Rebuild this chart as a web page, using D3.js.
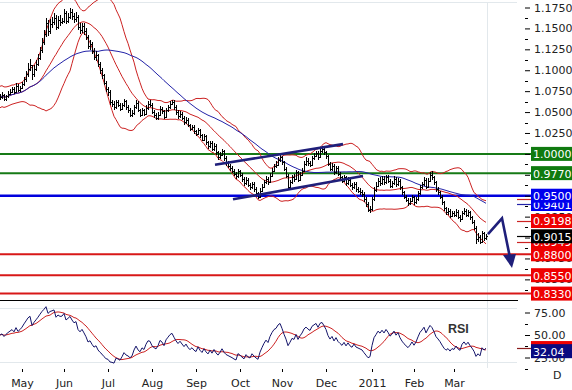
<!DOCTYPE html>
<html>
<head>
<meta charset="utf-8">
<script src="https://cdn.jsdelivr.net/npm/d3@7"></script>
<style>
  body { margin: 0; background: #fff; }
  svg { display: block; font-family: "DejaVu Sans", Verdana, sans-serif; }
</style>
</head>
<body>
<svg id="chart" width="572" height="390"></svg>
<script>
// daily bars, USD/CHF style, from 16 Apr 2010 (weekdays only)
var firstDay = new Date(2010, 3, 16);

var closes = [
  1.0680, 1.0700, 1.0655, 1.0690, 1.0720, 1.0745, 1.0770, 1.0740, 1.0810, 1.0760,
  1.0790, 1.0830, 1.0890, 1.0950, 1.1020, 1.1060, 1.0950, 1.1020, 1.1080, 1.1150,
  1.1240, 1.1340, 1.1430, 1.1560, 1.1470, 1.1550, 1.1580, 1.1620, 1.1520, 1.1600,
  1.1580, 1.1590, 1.1680, 1.1590, 1.1640, 1.1700, 1.1650, 1.1610, 1.1640, 1.1520,
  1.1480, 1.1530, 1.1470, 1.1400, 1.1290, 1.1310, 1.1230, 1.1160, 1.1180, 1.1070,
  1.1000, 1.0940, 1.0850, 1.0770, 1.0740, 1.0620, 1.0600, 1.0560, 1.0620, 1.0590,
  1.0540, 1.0580, 1.0630, 1.0560, 1.0530, 1.0470, 1.0490, 1.0560, 1.0610, 1.0520,
  1.0470, 1.0520, 1.0480, 1.0550, 1.0600, 1.0590, 1.0500, 1.0460, 1.0430, 1.0470,
  1.0540, 1.0510, 1.0440, 1.0520, 1.0560, 1.0600, 1.0620, 1.0560, 1.0500, 1.0450,
  1.0480, 1.0430, 1.0380, 1.0410, 1.0340, 1.0300, 1.0320, 1.0270, 1.0240, 1.0290,
  1.0220, 1.0170, 1.0210, 1.0140, 1.0090, 1.0130, 1.0060, 1.0100, 1.0020, 0.9960,
  0.9990, 1.0030, 0.9950, 0.9890, 0.9860, 0.9830, 0.9800, 0.9760, 0.9730, 0.9790,
  0.9750, 0.9700, 0.9650, 0.9690, 0.9630, 0.9600, 0.9640, 0.9580, 0.9530, 0.9490,
  0.9560, 0.9610, 0.9660, 0.9700, 0.9660, 0.9740, 0.9800, 0.9850, 0.9870, 0.9930,
  0.9960, 0.9900, 0.9820, 0.9740, 0.9610, 0.9660, 0.9720, 0.9700, 0.9780, 0.9690,
  0.9750, 0.9800, 0.9880, 0.9920, 0.9890, 0.9870, 0.9950, 0.9980, 1.0010, 0.9960,
  1.0040, 1.0060, 1.0020, 0.9970, 0.9880, 0.9820, 0.9860, 0.9780, 0.9830, 0.9760,
  0.9720, 0.9680, 0.9720, 0.9650, 0.9690, 0.9630, 0.9600, 0.9640, 0.9580, 0.9560,
  0.9540, 0.9520, 0.9460, 0.9400, 0.9330, 0.9340, 0.9460, 0.9570, 0.9620, 0.9680,
  0.9650, 0.9700, 0.9660, 0.9720, 0.9680, 0.9620, 0.9650, 0.9700, 0.9640, 0.9680,
  0.9600, 0.9540, 0.9490, 0.9450, 0.9410, 0.9440, 0.9480, 0.9420, 0.9460, 0.9530,
  0.9600, 0.9640, 0.9690, 0.9610, 0.9680, 0.9750, 0.9720, 0.9660, 0.9580, 0.9540,
  0.9490, 0.9420, 0.9350, 0.9300, 0.9320, 0.9260, 0.9290, 0.9270, 0.9310, 0.9250,
  0.9220, 0.9290, 0.9320, 0.9270, 0.9300, 0.9240, 0.9190, 0.9120, 0.8980, 0.9010,
  0.8950, 0.9050, 0.8990, 0.9015
];

var highs = [
  1.0715, 1.0735, 1.0720, 1.0710, 1.0750, 1.0780, 1.0795, 1.0800, 1.0850, 1.0840,
  1.0815, 1.0865, 1.0920, 1.0990, 1.1090, 1.1140, 1.1050, 1.1060, 1.1120, 1.1190,
  1.1280, 1.1390, 1.1480, 1.1620, 1.1600, 1.1610, 1.1640, 1.1680, 1.1660, 1.1650,
  1.1660, 1.1630, 1.1735, 1.1710, 1.1690, 1.1740, 1.1730, 1.1690, 1.1700, 1.1660,
  1.1560, 1.1570, 1.1560, 1.1500, 1.1420, 1.1360, 1.1340, 1.1260, 1.1230, 1.1200,
  1.1100, 1.1030, 1.0960, 1.0870, 1.0800, 1.0760, 1.0650, 1.0630, 1.0650, 1.0640,
  1.0610, 1.0610, 1.0660, 1.0650, 1.0580, 1.0550, 1.0530, 1.0590, 1.0640, 1.0630,
  1.0540, 1.0550, 1.0540, 1.0580, 1.0630, 1.0640, 1.0610, 1.0520, 1.0490, 1.0500,
  1.0570, 1.0560, 1.0530, 1.0550, 1.0590, 1.0630, 1.0650, 1.0640, 1.0580, 1.0520,
  1.0510, 1.0500, 1.0450, 1.0440, 1.0430, 1.0360, 1.0350, 1.0340, 1.0290, 1.0310,
  1.0300, 1.0240, 1.0240, 1.0230, 1.0160, 1.0160, 1.0150, 1.0130, 1.0120, 1.0040,
  1.0020, 1.0060, 1.0050, 0.9970, 0.9910, 0.9880, 0.9850, 0.9820, 0.9780, 0.9820,
  0.9810, 0.9770, 0.9720, 0.9720, 0.9710, 0.9650, 0.9670, 0.9660, 0.9600, 0.9550,
  0.9590, 0.9640, 0.9690, 0.9730, 0.9720, 0.9770, 0.9830, 0.9880, 0.9910, 0.9960,
  0.9990, 0.9980, 0.9920, 0.9840, 0.9760, 0.9690, 0.9750, 0.9760, 0.9810, 0.9800,
  0.9780, 0.9830, 0.9910, 0.9960, 0.9950, 0.9920, 0.9980, 1.0010, 1.0040, 1.0030,
  1.0070, 1.0090, 1.0080, 1.0040, 0.9990, 0.9900, 0.9890, 0.9880, 0.9860, 0.9850,
  0.9780, 0.9740, 0.9750, 0.9740, 0.9720, 0.9710, 0.9650, 0.9670, 0.9660, 0.9610,
  0.9590, 0.9570, 0.9540, 0.9480, 0.9420, 0.9380, 0.9490, 0.9600, 0.9660, 0.9710,
  0.9720, 0.9740, 0.9730, 0.9750, 0.9750, 0.9700, 0.9680, 0.9730, 0.9720, 0.9710,
  0.9700, 0.9620, 0.9560, 0.9510, 0.9470, 0.9470, 0.9510, 0.9500, 0.9490, 0.9560,
  0.9630, 0.9670, 0.9720, 0.9710, 0.9710, 0.9780, 0.9790, 0.9740, 0.9680, 0.9610,
  0.9560, 0.9510, 0.9440, 0.9370, 0.9350, 0.9340, 0.9320, 0.9320, 0.9340, 0.9330,
  0.9270, 0.9320, 0.9350, 0.9340, 0.9330, 0.9320, 0.9260, 0.9210, 0.9140, 0.9050,
  0.9030, 0.9080, 0.9070, 0.9040
];

var lows = [
  1.0640, 1.0660, 1.0630, 1.0635, 1.0670, 1.0705, 1.0730, 1.0715, 1.0725, 1.0740,
  1.0735, 1.0770, 1.0810, 1.0860, 1.0920, 1.0990, 1.0880, 1.0920, 1.0990, 1.1050,
  1.1120, 1.1210, 1.1300, 1.1400, 1.1410, 1.1430, 1.1510, 1.1540, 1.1480, 1.1490,
  1.1530, 1.1550, 1.1560, 1.1550, 1.1560, 1.1610, 1.1600, 1.1570, 1.1580, 1.1480,
  1.1430, 1.1440, 1.1420, 1.1360, 1.1250, 1.1240, 1.1190, 1.1120, 1.1110, 1.1040,
  1.0960, 1.0900, 1.0820, 1.0740, 1.0690, 1.0590, 1.0560, 1.0530, 1.0540, 1.0560,
  1.0510, 1.0520, 1.0560, 1.0530, 1.0490, 1.0440, 1.0440, 1.0470, 1.0540, 1.0500,
  1.0440, 1.0450, 1.0450, 1.0460, 1.0530, 1.0560, 1.0480, 1.0430, 1.0400, 1.0410,
  1.0450, 1.0480, 1.0420, 1.0430, 1.0500, 1.0540, 1.0580, 1.0530, 1.0470, 1.0420,
  1.0430, 1.0400, 1.0350, 1.0360, 1.0320, 1.0270, 1.0280, 1.0240, 1.0210, 1.0220,
  1.0190, 1.0150, 1.0150, 1.0110, 1.0060, 1.0070, 1.0040, 1.0040, 0.9990, 0.9930,
  0.9940, 0.9970, 0.9920, 0.9860, 0.9830, 0.9800, 0.9770, 0.9730, 0.9700, 0.9710,
  0.9720, 0.9670, 0.9620, 0.9630, 0.9600, 0.9570, 0.9580, 0.9550, 0.9500, 0.9460,
  0.9470, 0.9540, 0.9590, 0.9640, 0.9630, 0.9650, 0.9720, 0.9780, 0.9830, 0.9850,
  0.9900, 0.9870, 0.9790, 0.9710, 0.9570, 0.9590, 0.9640, 0.9670, 0.9690, 0.9660,
  0.9680, 0.9730, 0.9780, 0.9860, 0.9860, 0.9840, 0.9850, 0.9930, 0.9960, 0.9930,
  0.9950, 1.0010, 0.9990, 0.9940, 0.9850, 0.9790, 0.9800, 0.9750, 0.9760, 0.9740,
  0.9690, 0.9650, 0.9660, 0.9620, 0.9630, 0.9600, 0.9570, 0.9580, 0.9550, 0.9530,
  0.9510, 0.9490, 0.9430, 0.9370, 0.9300, 0.9290, 0.9320, 0.9440, 0.9550, 0.9600,
  0.9620, 0.9630, 0.9630, 0.9640, 0.9650, 0.9590, 0.9590, 0.9630, 0.9610, 0.9620,
  0.9570, 0.9510, 0.9460, 0.9420, 0.9380, 0.9390, 0.9420, 0.9390, 0.9400, 0.9440,
  0.9510, 0.9580, 0.9620, 0.9580, 0.9590, 0.9660, 0.9690, 0.9630, 0.9550, 0.9510,
  0.9460, 0.9390, 0.9320, 0.9270, 0.9270, 0.9230, 0.9240, 0.9240, 0.9250, 0.9220,
  0.9190, 0.9210, 0.9270, 0.9240, 0.9250, 0.9210, 0.9160, 0.9090, 0.8920, 0.8950,
  0.8920, 0.8940, 0.8960, 0.8970
];

var monthNames = ["May", "Jun", "Jul", "Aug", "Sep", "Oct", "Nov", "Dec", "2011", "Feb", "Mar"];
var priceTicks = [1.175, 1.15, 1.125, 1.1, 1.075, 1.05, 1.025, 1.0, 0.975, 0.95, 0.925, 0.9, 0.875, 0.85];
var rsiTicks = [75, 50, 25];

// horizontal support / resistance levels
var levelValues = [1.0, 0.977, 0.95, 0.88, 0.855, 0.833];
var levelKinds  = ["res", "res", "pivot", "sup", "sup", "sup"];

// last values shown on the price axis
var bandUpperLast = 0.9455, maLast = 0.9401, bandMidLast = 0.9198, bandLowLast = 0.8949, closeLast = 0.9015;
var rsiLast = 32.04, rsiSignalLast = 35.5;

// indicator state before the first visible bar
var seedDev = 0.0066;     // 20-day std dev at the left edge
var seedMove = 0.003;     // average daily up / down move for RSI

// drawn channel and forecast (bar index, price)
var channelTop = [[107.5, 0.987], [171.5, 1.0117]];
var channelBottom = [[116.5, 0.9457], [181.5, 0.9735]];
var forecast = [[244, 0.9040], [251, 0.9230], [255.5, 0.8700]];
var forecastTip = [256, 0.8637];

var svg = d3.select("#chart");

var dates = d3.timeDay.range(firstDay, new Date(2011, 2, 31))
  .filter(function (d) { return d.getDay() > 0 && d.getDay() < 6; })
  .slice(0, closes.length);

var x = d3.scaleLinear().domain([0, 258]).range([0, 516]);
var y = d3.scaleLinear().domain([0.833, 1.175]).range([293.6, 7.5]);
var yR = d3.scaleLinear().domain([25, 75]).range([357.5, 312.5]);

var colors = {
  res: "#167a16", pivot: "#0000dd", sup: "#d81818",
  band: "#cc2222", ma: "#2323a8", trend: "#1f1f7a",
  resBox: "#0f7a0f", pivotBox: "#0000ee", supBox: "#ee0000",
  grid: "#e2e8ec"
};

// ---- indicators
function sma(arr, n) {
  return arr.map(function (_, i) {
    return d3.mean(arr.slice(Math.max(0, i - n + 1), i + 1));
  });
}
function sd(arr, n) {
  return arr.map(function (_, i) {
    var s = arr.slice(Math.max(0, i - n + 1), i + 1), m = d3.mean(s);
    var v = d3.mean(s, function (p) { return (p - m) * (p - m); });
    // blend in the seed while the window is still filling
    return Math.sqrt((s.length * v + (n - s.length) * seedDev * seedDev) / n);
  });
}
function rsi(arr, n) {
  var ag = seedMove, al = seedMove, out = [50];
  for (var i = 1; i < arr.length; i++) {
    var ch = arr[i] - arr[i - 1];
    ag = (ag * (n - 1) + Math.max(ch, 0)) / n;
    al = (al * (n - 1) + Math.max(-ch, 0)) / n;
    out.push(100 - 100 / (1 + ag / al));
  }
  return out;
}

var mid = sma(closes, 20), dev = sd(closes, 20);
var upper = mid.map(function (m, i) { return m + 2 * dev[i]; });
var lower = mid.map(function (m, i) { return m - 2 * dev[i]; });
var ma50 = sma(closes, 50);
var rsiVals = rsi(closes, 14);
var rsiSig = sma(rsiVals, 10);

// ---- grid
svg.append("line").attr("x1", 0).attr("x2", 517).attr("y1", 2.5).attr("y2", 2.5)
  .attr("stroke", colors.grid);
svg.append("line").attr("x1", 487.5).attr("x2", 487.5).attr("y1", 3).attr("y2", 368)
  .attr("stroke", colors.grid);
[80, 20].forEach(function (v) {
  svg.append("line").attr("x1", 0).attr("x2", 517)
    .attr("y1", Math.round(yR(v)) + 0.5).attr("y2", Math.round(yR(v)) + 0.5)
    .attr("stroke", colors.grid);
});

var defs = svg.append("defs");
defs.append("clipPath").attr("id", "mainClip").append("rect")
  .attr("x", 0).attr("y", 0).attr("width", 517).attr("height", 300);
defs.append("clipPath").attr("id", "rsiClip").append("rect")
  .attr("x", 0).attr("y", 301).attr("width", 517).attr("height", 68);

// ---- level lines
levelValues.forEach(function (v, i) {
  svg.append("line")
    .attr("x1", 0).attr("x2", 531)
    .attr("y1", y(v)).attr("y2", y(v))
    .attr("stroke", colors[levelKinds[i]])
    .attr("stroke-width", levelKinds[i] === "pivot" ? 2.5 : 2);
});

var main = svg.append("g").attr("clip-path", "url(#mainClip)");

var line = d3.line().x(function (d, i) { return x(i); }).y(function (d) { return y(d); });

[upper, mid, lower].forEach(function (s) {
  main.append("path").datum(s).attr("d", line)
    .attr("fill", "none").attr("stroke", colors.band).attr("stroke-width", 1);
});
main.append("path").datum(ma50).attr("d", line)
  .attr("fill", "none").attr("stroke", colors.ma).attr("stroke-width", 1);

// ---- OHLC bars
var barPath = closes.map(function (c, i) {
  var px = Math.round(x(i)) + 0.5;
  var o = i > 0 ? closes[i - 1] : c;
  return "M" + px + "," + y(highs[i]) + "V" + y(lows[i]) +
    "M" + (px - 1) + "," + Math.round(y(o)) + "h1" +
    "M" + px + "," + Math.round(y(c)) + "h1.5";
}).join("");
main.append("path").attr("d", barPath).attr("fill", "none")
  .attr("stroke", "#000").attr("stroke-width", 1).attr("shape-rendering", "crispEdges");

// ---- channel lines and forecast arrow
var trendLine = d3.line().x(function (d) { return x(d[0]); }).y(function (d) { return y(d[1]); });
[channelTop, channelBottom].forEach(function (t) {
  svg.append("path").datum(t).attr("d", trendLine)
    .attr("stroke", colors.trend).attr("stroke-width", 2.6).attr("fill", "none");
});
svg.append("path").datum(forecast).attr("d", trendLine)
  .attr("stroke", colors.trend).attr("stroke-width", 2.6).attr("fill", "none")
  .attr("stroke-linejoin", "miter");
var tipX = x(forecastTip[0]), tipY = y(forecastTip[1]);
svg.append("path")
  .attr("d", "M" + tipX + "," + tipY + "L" + (tipX - 9) + "," + (tipY - 13) +
    "L" + (tipX + 4) + "," + (tipY - 14) + "Z")
  .attr("fill", colors.trend);

// ---- separator
svg.append("line").attr("x1", 0).attr("x2", 518).attr("y1", 300.5).attr("y2", 300.5)
  .attr("stroke", "#000");

// ---- RSI panel
var rsiG = svg.append("g").attr("clip-path", "url(#rsiClip)");
var rsiLine = d3.line().x(function (d, i) { return x(i); }).y(function (d) { return yR(d); });
rsiG.append("path").datum(rsiSig).attr("d", rsiLine)
  .attr("fill", "none").attr("stroke", "#cc2222").attr("stroke-width", 1);
rsiG.append("path").datum(rsiVals).attr("d", rsiLine)
  .attr("fill", "none").attr("stroke", "#14146a").attr("stroke-width", 1);

svg.append("text").attr("x", 448).attr("y", 333)
  .attr("font-family", "'Liberation Sans', Arial, sans-serif")
  .attr("font-weight", "bold").attr("font-size", 12.5).attr("fill", "#333")
  .text("RSI");

// ---- axes
function styleAxis(g) {
  g.select(".domain").remove();
  g.selectAll(".tick line").attr("stroke", "#000");
  g.selectAll(".tick text").attr("font-size", 11).attr("fill", "#222")
    .attr("font-family", "'DejaVu Sans', Verdana, sans-serif");
}

svg.append("g").attr("transform", "translate(525,0)")
  .call(d3.axisRight(y).tickValues(priceTicks).tickSize(5).tickPadding(4)
    .tickFormat(d3.format(".4f")))
  .call(styleAxis);
priceTicks.forEach(function (t) {
  var yy = Math.round(y(t - 0.0125)) + 0.5;
  svg.append("line").attr("x1", 525).attr("x2", 528).attr("y1", yy).attr("y2", yy).attr("stroke", "#000");
});

svg.append("g").attr("transform", "translate(525,0)")
  .call(d3.axisRight(yR).tickValues(rsiTicks).tickSize(5).tickPadding(4)
    .tickFormat(d3.format(".2f")))
  .call(styleAxis);
[62.5, 37.5, 12.5].forEach(function (t) {
  var yy = Math.round(yR(t)) + 0.5;
  svg.append("line").attr("x1", 525).attr("x2", 528).attr("y1", yy).attr("y2", yy).attr("stroke", "#000");
});

// month ticks at first bar of each month
var monthIdx = [];
dates.forEach(function (d, i) {
  if (i > 0 && d.getMonth() !== dates[i - 1].getMonth()) monthIdx.push(i);
});
svg.append("g").attr("transform", "translate(0,369)")
  .call(d3.axisBottom(x).tickValues(monthIdx).tickSize(3).tickPadding(7)
    .tickFormat(function (d, i) { return monthNames[i]; }))
  .call(styleAxis);

svg.append("text").attr("x", 553).attr("y", 379).attr("font-size", 11)
  .attr("fill", "#222").text("D");

// ---- value markers and boxes on the axis
function marker(v, color, scale) {
  var yy = Math.round((scale || y)(v)) + 0.5;
  svg.append("line").attr("x1", 517).attr("x2", 531).attr("y1", yy).attr("y2", yy)
    .attr("stroke", color).attr("stroke-width", 1.2);
}
function box(v, fill, txt, scale) {
  var yy = (scale || y)(v);
  svg.append("rect").attr("x", 531).attr("y", yy - 7).attr("width", 41).attr("height", 14)
    .attr("fill", fill);
  svg.append("text").attr("x", 533).attr("y", yy + 4.5).attr("font-size", 11)
    .attr("fill", "#fff").text(txt);
}
var fmt = d3.format(".4f");

marker(bandUpperLast, colors.band);
marker(maLast, colors.ma);
marker(bandMidLast, colors.band);
marker(bandLowLast, colors.band);
marker(closeLast, "#000");
box(bandUpperLast, colors.supBox, fmt(bandUpperLast));
box(maLast, colors.pivotBox, fmt(maLast));
box(bandMidLast, colors.supBox, fmt(bandMidLast));
box(bandLowLast, colors.supBox, fmt(bandLowLast));
box(closeLast, "#000", fmt(closeLast));
levelValues.forEach(function (v, i) {
  box(v, colors[levelKinds[i] + "Box"], fmt(v));
});

marker(rsiSignalLast, "#8a1a1a", yR);
box(rsiSignalLast, "#ee0000", "", yR);
box(rsiLast, "#0a0a80", d3.format(".2f")(rsiLast), yR);
</script>
</body>
</html>
